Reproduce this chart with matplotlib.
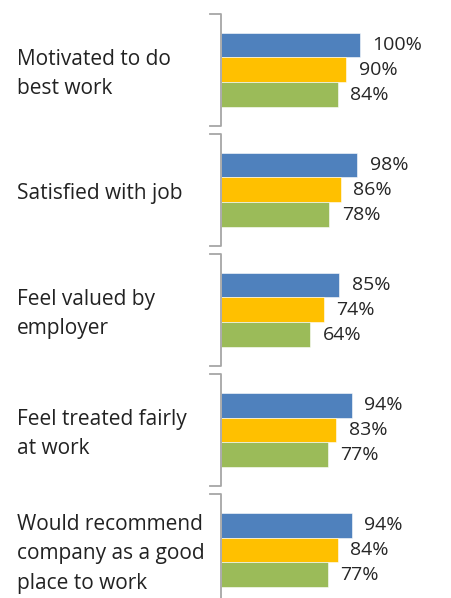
import numpy as np
from matplotlib import pyplot as plt

categories = ["Motivated to do\nbest work",
              "Satisfied with job",
              "Feel valued by\nemployer",
              "Feel treated fairly\nat work",
              "Would recommend\ncompany as a good\nplace to work"]
series_1 = [100, 98, 85, 94, 94]   # blue
series_2 = [90, 86, 74, 83, 84]    # yellow
series_3 = [84, 78, 64, 77, 77]    # green
colors = ["#4F81BD", "#FFC000", "#9BBB59"]

plt.rcParams['font.family'] = ['Open Sans', 'DejaVu Sans']

fig = plt.figure(figsize=(4.51, 5.98), dpi=100)
ax = fig.add_axes([221 / 451, 0, 230 / 451, 1])

y = np.arange(len(categories))
h = 0.208
for i, (vals, c) in enumerate(zip([series_1, series_2, series_3], colors)):
    pos = y + (i - 1) * h
    ax.barh(pos, vals, height=h, color=c, edgecolor='white', linewidth=0.4)
    for p, v in zip(pos, vals):
        ax.annotate(f"{v}%", (v, p), xytext=(9, 0), textcoords='offset points',
                    va='center', ha='left', fontsize=14, color='#262626')

ax.set_xlim(0, 165.5)
ax.set_ylim(4.4, -0.583)
ax.axis('off')

# bracket style axis between groups
tick = 8.0
for k in y:
    top, bot = k - 0.47, k + 0.47
    ax.plot([-tick, 0, 0, -tick], [top, top, bot, bot], color='#A6A6A6',
            lw=1.3, clip_on=False, solid_joinstyle='round')

for k, name in zip(y, categories):
    fig.text(17 / 451, 1 - (74 + 120 * k) / 598, name, ha='left', va='center',
             fontsize=15, color='#222222', linespacing=1.5)

fig.savefig("out.png", dpi=100)
